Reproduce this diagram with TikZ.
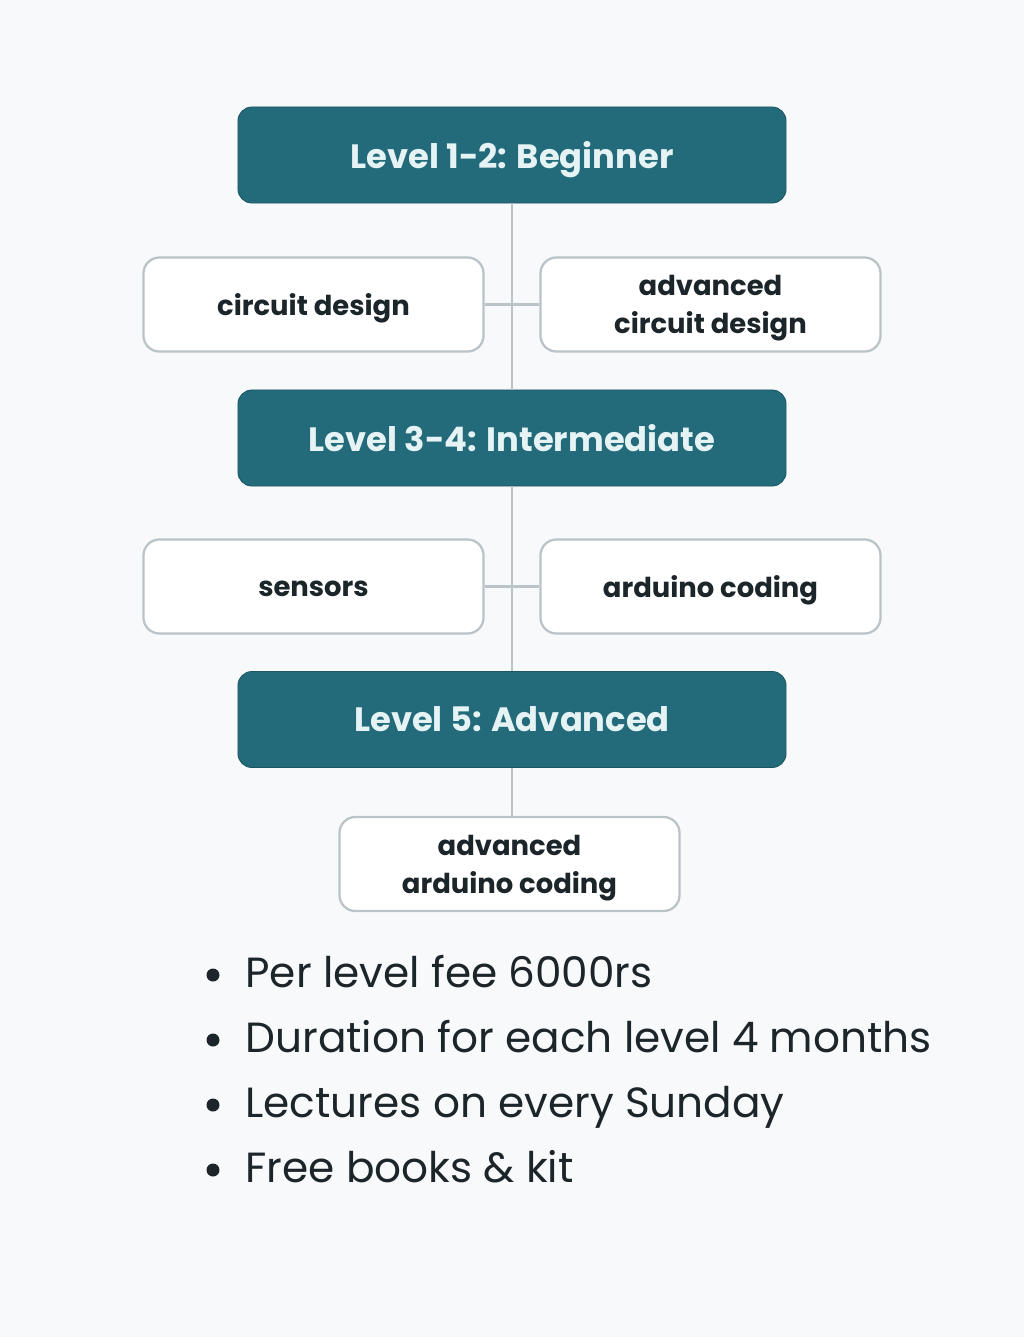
\documentclass[tikz,border=0pt]{standalone}
\usepackage{fontspec}
\setmainfont{Poppins}
\definecolor{levelteal}{HTML}{236B7A}
\definecolor{leveltext}{HTML}{E6F3F5}
\definecolor{linegray}{HTML}{B9C3C8}
\definecolor{pagebg}{HTML}{F8F9FA}
\definecolor{inkdark}{HTML}{1C2529}
\begin{document}
\begin{tikzpicture}[x=0.025cm, y=-0.025cm, thick,
    level/.style={rectangle, rounded corners=0.35cm, fill=levelteal, draw=levelteal!80!black,
      line width=0.6pt, minimum width=13.7cm, minimum height=2.4cm, text=leveltext,
      text depth=0pt, font=\fontsize{24}{30}\selectfont\bfseries},
    topic/.style={rectangle, rounded corners=0.4cm, fill=white, draw=linegray, line width=1.6pt,
      minimum width=8.5cm, minimum height=2.35cm, text=inkdark, align=center,
      text depth=-3pt, font=\fontsize{19.5}{27}\selectfont\bfseries},
    link/.style={draw=linegray, line width=1.6pt}]
  \fill[pagebg] (0,0) rectangle (1024,1337);
  \node[level] (lvA) at (512,155) {Level 1-2: Beginner};
  \node[topic] (cd) at (313.5,304.5) {circuit design};
  \node[topic] (acd) at (710.5,304.5) {advanced\\circuit design};
  \node[level] (lvB) at (512,438) {Level 3-4: Intermediate};
  \node[topic, text height=14.5pt] (sen) at (313.5,586.5) {sensors};
  \node[topic] (ard) at (710.5,586.5) {arduino coding};
  \node[level] (lvC) at (512,719.5) {Level 5: Advanced};
  \node[topic] (aard) at (509.5,864) {advanced\\arduino coding};
  \draw[link] (lvA) -- (lvB) (lvB) -- (lvC) (lvC.south) -- (lvC.south |- aard.north);
  \draw[link] (cd) -- (acd) (sen) -- (ard);
  % fee and schedule notes
  \foreach \txt [count=\i] in {Per level fee 6000rs, Duration for each level 4 months,
      Lectures on every Sunday, Free books \& kit}
    {\fill[inkdark] (213,910+65*\i) circle (6.5);
     \node[anchor=base west, inner sep=0pt, text=inkdark, font=\fontsize{30}{34}\selectfont] (item\i) at (245,922+65*\i) {\txt};}
\end{tikzpicture}
\end{document}
